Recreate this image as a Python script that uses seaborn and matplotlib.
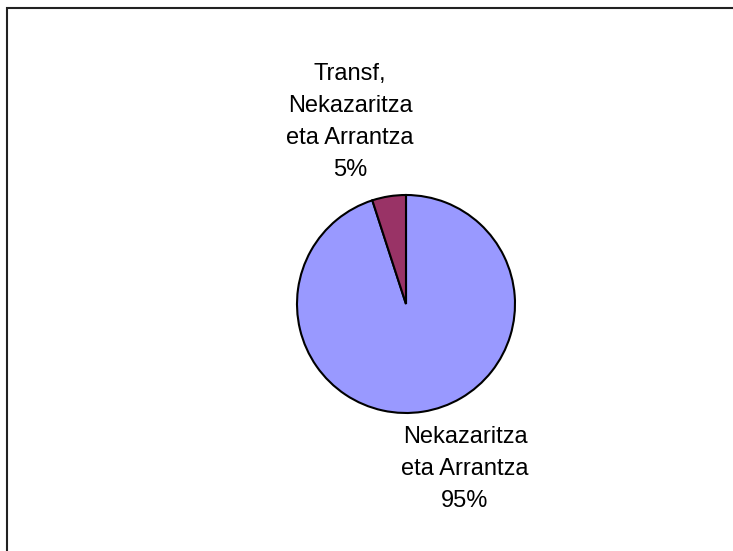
import matplotlib
matplotlib.use("Agg")
import matplotlib.pyplot as plt
import seaborn as sns
from matplotlib.patches import Rectangle

# Data (clockwise from 12 o'clock)
categories = ["Nekazaritza\neta Arrantza", "Transf,\nNekazaritza\neta Arrantza"]
shares = [95, 5]
colors = ["#9999FF", "#993366"]

sns.set_theme(style="white")
plt.rcParams['font.family'] = ['Liberation Sans', 'DejaVu Sans']

W, H = 733, 551
fig = plt.figure(figsize=(W / 100, H / 100), dpi=100)
fig.patch.set_facecolor("white")

# outer chart frame (only top and left edges visible)
fig.patches.append(Rectangle((7 / W, -0.1), 1.2, (H - 8) / H + 0.1,
                             transform=fig.transFigure, fill=False,
                             edgecolor="#222222", linewidth=1.5))

# pie axes: center (406, 304) px, radius 109 px
cx, cy, r = 406, 304, 109
ax = fig.add_axes([(cx - r) / W, (H - cy - r) / H, 2 * r / W, 2 * r / H])
ax.pie(shares, colors=colors, startangle=90, counterclock=False,
       wedgeprops=dict(edgecolor="black", linewidth=1.5))
ax.set_xlim(-1.0, 1.0)
ax.set_ylim(-1.0, 1.0)
ax.set_aspect("auto")
ax.axis("off")

# data labels
label_pos = [(465, 469), (350, 122)]
for cat, val, (x, y) in zip(categories, shares, label_pos):
    fig.text(x / W, 1 - y / H, f"{cat}\n{val}%", ha="center", va="center",
             multialignment="center", fontsize=17, linespacing=1.58,
             color="black")

fig.savefig("out.png", dpi=100)
